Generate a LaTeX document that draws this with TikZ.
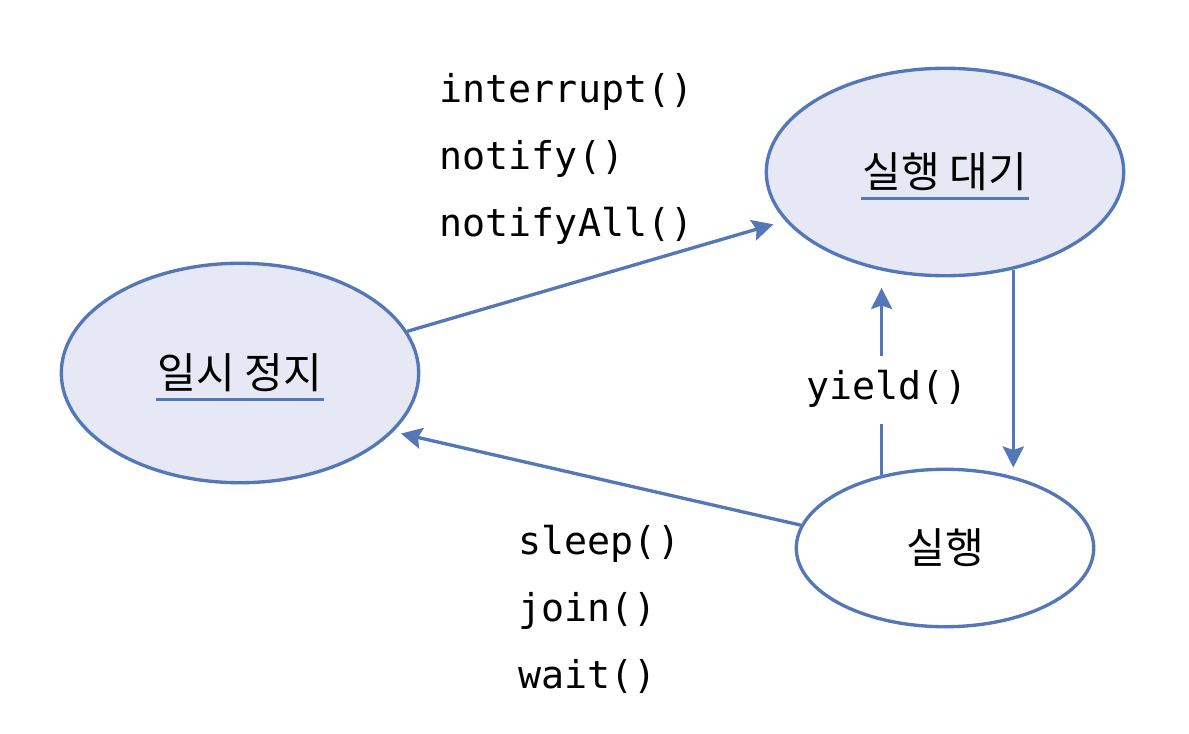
\documentclass[tikz,border=0pt]{standalone}
\usepackage{fontspec}
\setmonofont{DejaVu Sans Mono}
\newfontfamily\kor{Noto Sans CJK KR}
\usetikzlibrary{shapes.geometric,arrows.meta}
\definecolor{lineblue}{RGB}{84,119,184}
\definecolor{statefill}{RGB}{230,233,245}
\begin{document}
\begin{tikzpicture}[x=0.02cm,y=-0.02cm,line width=1.9pt,
>={Stealth[length=12pt,width=12pt,inset=2pt]},
state/.style={ellipse,draw=lineblue,inner sep=0pt},
statetxt/.style={font=\kor\fontsize{24}{28}\selectfont,inner sep=0pt},
uline/.style={draw=lineblue,line width=1.6pt},
conn/.style={->,draw=lineblue},
calls/.style={font=\ttfamily\fontsize{21.8}{38}\selectfont,align=left,inner sep=0pt}]
\useasboundingbox (0,0) rectangle (1189,733);
% states
\node[state,fill=statefill,minimum width=7.15cm,minimum height=4.15cm] (wait) at (945,172) {};
\node[state,fill=statefill,minimum width=7.15cm,minimum height=4.39cm] (pause) at (240,373) {};
\node[state,fill=white,minimum width=5.95cm,minimum height=3.15cm] (run) at (945,548) {};
\node[statetxt] (waittxt) at (wait) {실행 대기};
\node[statetxt] (pausetxt) at (pause) {일시 정지};
\node[statetxt] (runtxt) at (run) {실행};
\draw[uline] ([yshift=-6pt]waittxt.base west) -- ([yshift=-6pt]waittxt.base east);
\draw[uline] ([yshift=-6pt]pausetxt.base west) -- ([yshift=-6pt]pausetxt.base east);
% transitions
\draw[conn,shorten >=7pt] (pause.14) -- (wait.197);
\draw[conn,shorten >=4.5pt] (run.171) -- (pause.-21.6);
\draw[conn] (wait.-55) -- (wait.-55 |- run.north);
\draw[conn,shorten >=6pt] (run.131) -- (run.131 |- wait.south)
node[pos=0.43,xshift=3pt,fill=white,font=\ttfamily\fontsize{21.8}{26}\selectfont,
inner xsep=2pt,inner ysep=9pt,text height=16pt,text depth=5pt] (yieldlbl) {yield()};
% method names
\node[calls,anchor=base west] (wakecalls) at (438,236) {interrupt()\\notify()\\notifyAll()};
\node[calls,anchor=base west] (blockcalls) at (517,688) {sleep()\\join()\\wait()};
\end{tikzpicture}
\end{document}
